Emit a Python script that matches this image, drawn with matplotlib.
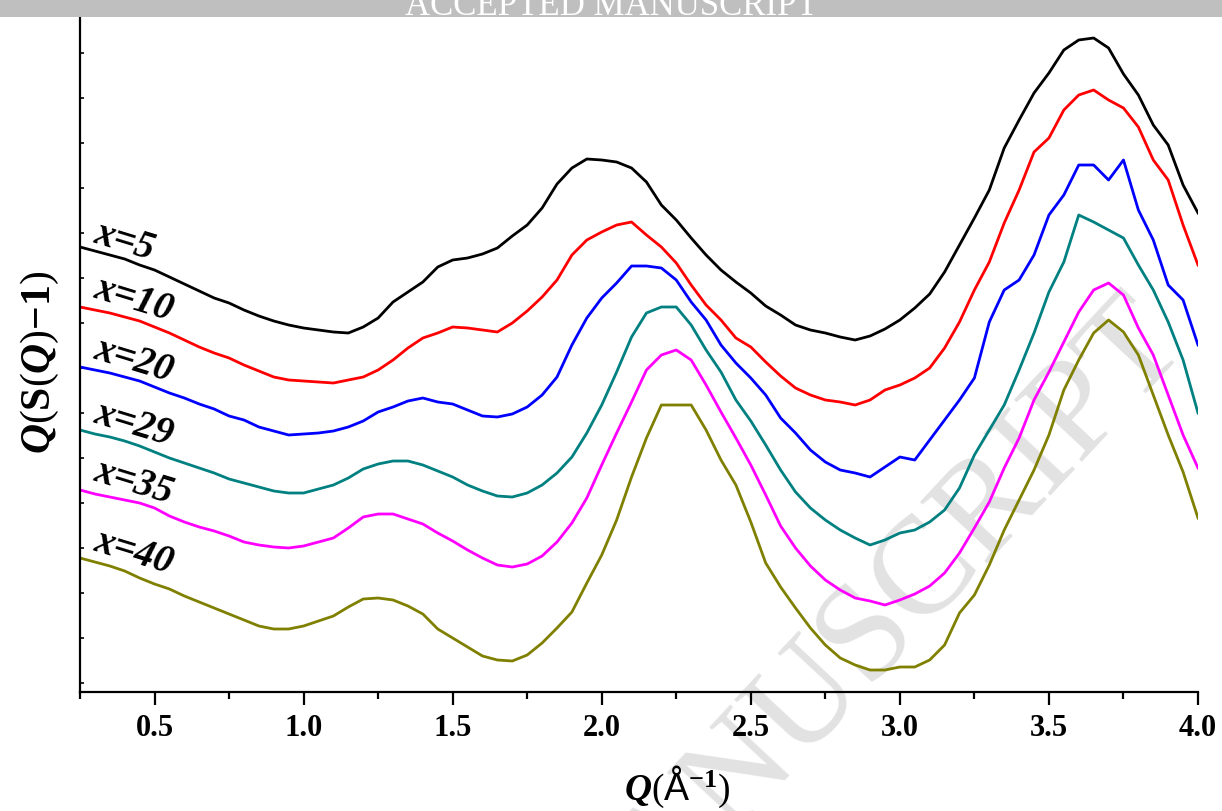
import matplotlib
matplotlib.use("Agg")
import matplotlib.pyplot as plt
import numpy as np
from matplotlib.ticker import MultipleLocator, FixedLocator, FormatStrFormatter

plt.rcParams['font.family'] = ['Liberation Serif', 'DejaVu Serif']
plt.rcParams['mathtext.fontset'] = 'custom'
plt.rcParams['mathtext.rm'] = 'Liberation Serif:bold'
plt.rcParams['mathtext.it'] = 'Liberation Serif:italic:bold'
plt.rcParams['mathtext.bf'] = 'Liberation Serif:bold'
plt.rcParams['mathtext.sf'] = 'Liberation Sans'

# Q grid (Å^-1), 0.25 ... 4.00 in steps of 0.05
q = np.linspace(0.25, 4.0, 76)

# Q(S(Q)-1) curves, vertically offset, arbitrary units
x5 = [445, 441, 437, 433, 427, 422, 415, 408, 401, 394,
      389, 382, 376, 371, 367, 364, 362, 360, 359, 365,
      374, 390, 400, 410, 425, 432, 434, 438, 444, 456,
      467, 484, 508, 524, 533, 532, 530, 524, 510, 487,
      472, 454, 437, 422, 410, 399, 386, 377, 367, 362,
      359, 355, 352, 356, 363, 372, 384, 398, 420, 447,
      474, 502, 544, 572, 599, 619, 642, 652, 654, 644,
      618, 597, 567, 547, 507, 479]
x10 = [385, 382, 379, 375, 371, 365, 359, 352, 345, 339,
       334, 327, 321, 315, 312, 311, 310, 309, 312, 315,
       322, 332, 344, 354, 359, 365, 364, 362, 360, 369,
       381, 395, 412, 437, 452, 460, 467, 470, 457, 445,
       429, 407, 387, 372, 354, 345, 330, 316, 304, 297,
       292, 290, 287, 292, 302, 307, 314, 324, 344, 370,
       402, 430, 469, 502, 540, 554, 582, 597, 602, 592,
       584, 565, 532, 512, 467, 427]
x20 = [325, 322, 319, 315, 311, 305, 299, 294, 288, 283,
       276, 272, 265, 261, 257, 258, 259, 261, 265, 271,
       280, 285, 291, 294, 290, 288, 282, 276, 275, 278,
       285, 297, 315, 347, 374, 394, 409, 426, 426, 424,
       412, 390, 372, 347, 329, 314, 297, 274, 259, 242,
       230, 222, 219, 215, 225, 235, 232, 252, 272, 292,
       314, 370, 402, 412, 437, 477, 497, 527, 527, 512,
       532, 482, 452, 407, 392, 347]
x29 = [262, 258, 255, 251, 246, 240, 234, 229, 224, 219,
       213, 209, 205, 201, 199, 199, 203, 207, 214, 223,
       228, 231, 231, 227, 221, 215, 207, 201, 196, 195,
       199, 207, 219, 235, 259, 287, 320, 355, 379, 385,
       385, 367, 342, 320, 292, 271, 247, 222, 200, 184,
       172, 162, 154, 147, 152, 159, 162, 170, 182, 204,
       237, 262, 287, 322, 359, 400, 430, 477, 470, 462,
       454, 427, 402, 370, 332, 279]
x35 = [202, 198, 195, 192, 189, 184, 176, 170, 165, 161,
       156, 150, 147, 145, 144, 146, 150, 154, 164, 175,
       178, 178, 173, 168, 159, 151, 142, 134, 127, 125,
       128, 136, 150, 169, 194, 227, 259, 290, 322, 337,
       342, 332, 307, 280, 254, 227, 197, 166, 144, 126,
       112, 102, 94, 91, 87, 92, 98, 106, 119, 139,
       164, 190, 224, 254, 292, 320, 350, 380, 402, 409,
       397, 364, 337, 297, 257, 224]
x40 = [134, 130, 126, 121, 114, 108, 103, 96, 90, 84,
       78, 72, 66, 63, 63, 66, 71, 76, 85, 93,
       94, 92, 86, 78, 63, 54, 45, 36, 32, 31,
       37, 49, 64, 80, 109, 137, 172, 215, 254, 287,
       287, 287, 262, 232, 207, 170, 129, 105, 84, 64,
       47, 34, 27, 22, 22, 25, 25, 32, 47, 79,
       97, 127, 162, 192, 222, 257, 302, 332, 359, 372,
       360, 337, 297, 257, 220, 174]

series = [x5, x10, x20, x29, x35, x40]
labels = ["x=5", "x=10", "x=20", "x=29", "x=35", "x=40"]
colors = ["#000000", "#ff0000", "#0000ff", "#008080", "#ff00ff", "#808000"]
label_y = [450, 395, 334, 270, 212, 142]

W, H = 1222, 811
fig = plt.figure(figsize=(W / 100, H / 100), dpi=100)

# watermark
fig.text(603 / W, 1 - 926 / H, "ACCEPTED MANUSCRIPT", rotation=47,
         rotation_mode='anchor', ha='center', va='center', fontsize=100,
         color='#e2e2e2', family='Liberation Serif', zorder=-5)

ax = fig.add_axes([80 / W, 1 - 692 / H, (1198 - 80) / W, (692 - 12) / H])
ax.patch.set_alpha(0)
for ys, c in zip(series, colors):
    ax.plot(q, ys, color=c, lw=2.0, solid_joinstyle='round')

for lab, ly in zip(labels, label_y):
    ax.text(0.292, ly, lab, fontsize=28, fontweight='bold', fontstyle='italic',
            rotation=-17, rotation_mode='anchor', ha='left', va='baseline')

ax.set_xlim(0.25, 4.0)
ax.set_ylim(0, 680)
ax.spines['top'].set_visible(False)
ax.spines['right'].set_visible(False)
for s in ('left', 'bottom'):
    ax.spines[s].set_linewidth(1.6)

ax.xaxis.set_major_locator(MultipleLocator(0.5))
ax.xaxis.set_minor_locator(MultipleLocator(0.25))
ax.xaxis.set_major_formatter(FormatStrFormatter('%.1f'))
ax.tick_params(axis='x', which='major', direction='out', length=9, width=1.6,
               labelsize=22, pad=7)
ax.tick_params(axis='x', which='minor', direction='out', length=5, width=1.6)
ax.yaxis.set_major_locator(FixedLocator([9 + 45 * k for k in range(15)]))
ax.tick_params(axis='y', which='major', direction='in', length=3, width=1.2,
               labelleft=False)
for t in ax.get_xticklabels():
    t.set_fontweight('bold')

fig.text(677 / W, 1 - 800 / H, r"$\mathit{Q}$($\mathsf{Å}^{\mathbf{-1}}$)",
         fontsize=27, ha='center', va='baseline')
fig.text(40 / W, 1 - 362 / H,
         r"$\mathit{Q}$($\mathbf{S}$($\mathit{Q}$)$\mathbf{-1}$)",
         fontsize=30, rotation=90, ha='center', va='center')

# banner
axb = fig.add_axes([0, 1 - 17 / H, 1, 17 / H])
axb.set_facecolor('#bfbfbf')
axb.set_xticks([])
axb.set_yticks([])
for s in axb.spines.values():
    s.set_visible(False)
axb.text(0.5, 2 / 17, "ACCEPTED MANUSCRIPT", transform=axb.transAxes,
         ha='center', va='baseline', fontsize=25, color='white',
         family='Liberation Serif', clip_on=True)

fig.savefig("out.png", dpi=100)
